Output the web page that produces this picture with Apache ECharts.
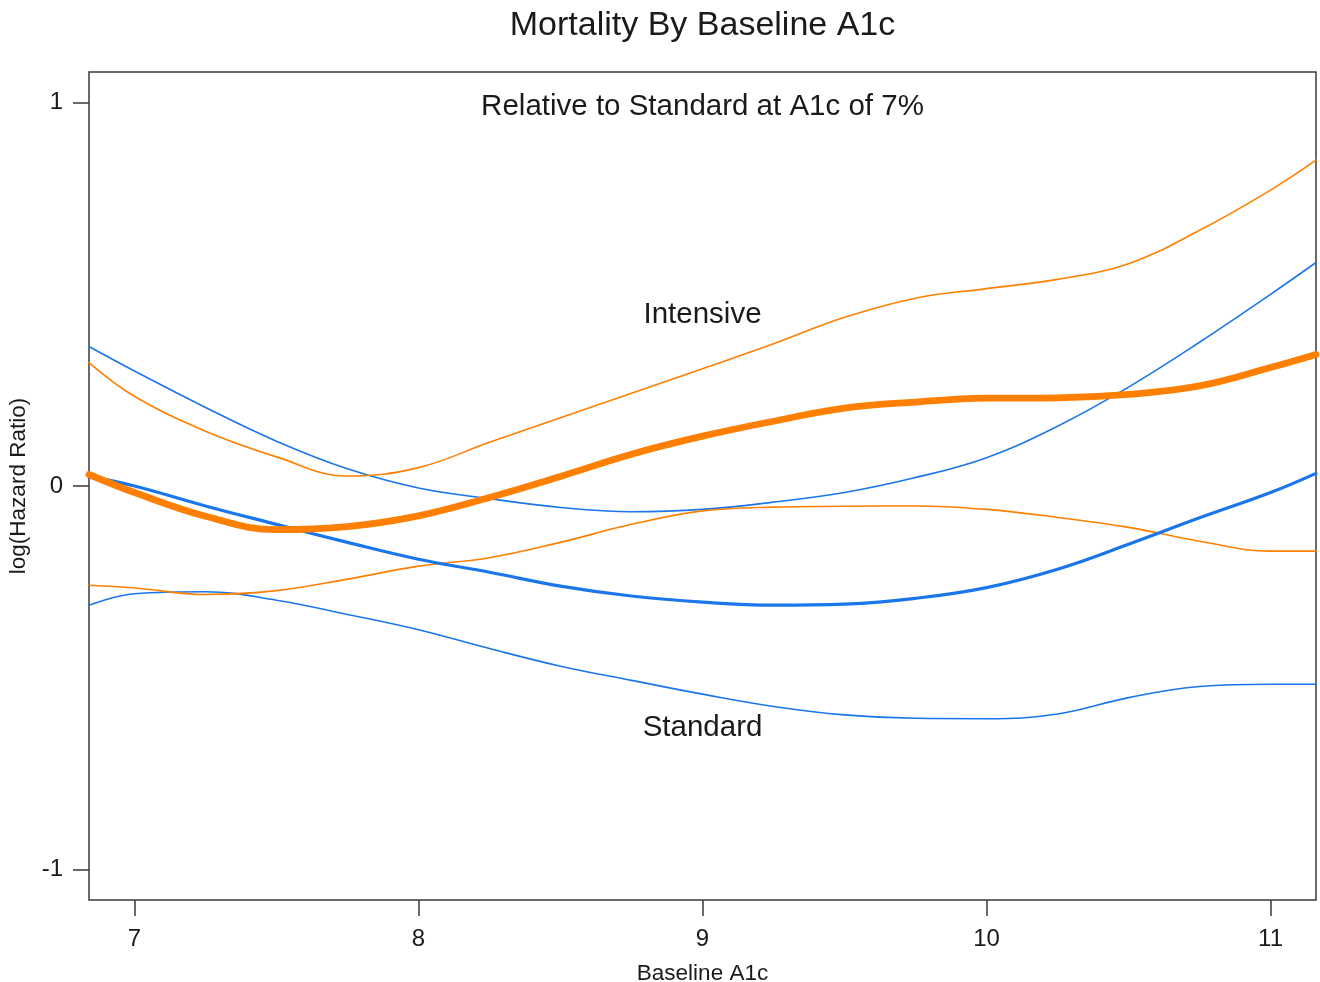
<!DOCTYPE html>
<html>
<head>
<meta charset="utf-8">
<script src="https://cdn.jsdelivr.net/npm/echarts@6/dist/echarts.min.js"></script>
<style>
  html, body { margin: 0; padding: 0; background: #ffffff; }
  #chart { width: 1320px; height: 982px; }
</style>
</head>
<body>
<div id="chart"></div>
<script>
// ---- Data ----
const a1c = [6.84, 7.0, 7.25, 7.5, 7.75, 8.0, 8.25, 8.5, 8.75, 9.0, 9.25, 9.5, 9.75, 10.0, 10.25, 10.5, 10.75, 11.0, 11.16];
const intensive      = [0.030, -0.017, -0.079, -0.114, -0.106, -0.078, -0.030, 0.025, 0.083, 0.130, 0.169, 0.203, 0.219, 0.229, 0.230, 0.239, 0.261, 0.309, 0.343];
const intensiveUpper = [0.322, 0.234, 0.143, 0.076, 0.026, 0.048, 0.114, 0.178, 0.242, 0.306, 0.371, 0.440, 0.490, 0.515, 0.539, 0.580, 0.667, 0.772, 0.850];
const intensiveLower = [-0.259, -0.266, -0.283, -0.273, -0.243, -0.209, -0.187, -0.147, -0.100, -0.065, -0.055, -0.053, -0.052, -0.061, -0.082, -0.108, -0.144, -0.170, -0.170];
const standard       = [0.025, 0.000, -0.052, -0.100, -0.147, -0.191, -0.225, -0.261, -0.287, -0.303, -0.311, -0.308, -0.293, -0.265, -0.217, -0.152, -0.083, -0.017, 0.033];
const standardUpper  = [0.364, 0.300, 0.205, 0.117, 0.045, -0.005, -0.033, -0.056, -0.067, -0.061, -0.042, -0.017, 0.022, 0.074, 0.156, 0.258, 0.375, 0.500, 0.583];
const standardLower  = [-0.311, -0.281, -0.276, -0.298, -0.335, -0.375, -0.424, -0.470, -0.507, -0.543, -0.575, -0.597, -0.606, -0.607, -0.595, -0.552, -0.523, -0.517, -0.517];
const xTicks = [7, 8, 9, 10, 11];
const yTicks = [-1, 0, 1];

const titleText = 'Mortality By Baseline A1c';
const subtitleText = 'Relative to Standard at A1c of 7%';
const xName = 'Baseline A1c';
const yName = 'log(Hazard Ratio)';
// annotation anchors in data units
const annotations = [
  { text: subtitleText, at: [9.0, 0.99] },
  { text: 'Intensive', at: [9.0, 0.447] },
  { text: 'Standard', at: [9.0, -0.632] }
];

// ---- Styles ----
const FONT = "'Liberation Sans', Arial, Helvetica, sans-serif";
const ORANGE = '#FF7F00';
const BLUE = '#1A76EA';
const INK = '#1a1a1a';
const FRAME = '#3a3a3a';

const pairs = ys => a1c.map((x, i) => [x, ys[i]]);
function line(name, ys, color, width, z) {
  return {
    name, type: 'line', data: pairs(ys), smooth: 0.4, symbol: 'none', z,
    lineStyle: { color, width, cap: 'round', join: 'round' },
    emphasis: { disabled: true }, silent: true
  };
}

const chart = echarts.init(document.getElementById('chart'), null, { renderer: 'canvas' });
chart.setOption({
  backgroundColor: '#ffffff',
  animation: false,
  grid: {
    left: 89, right: 4, top: 72, bottom: 82,
    containLabel: false, outerBoundsMode: 'none',
    show: true, borderColor: FRAME, borderWidth: 1.5, backgroundColor: 'transparent'
  },
  xAxis: {
    type: 'value', min: 6.84, max: 11.16,
    name: xName, nameLocation: 'middle', nameGap: 62,
    nameTextStyle: { fontFamily: FONT, fontSize: 22.5, color: INK },
    axisLine: { show: false, onZero: false },
    axisTick: { show: true, inside: false, length: 16, customValues: xTicks, lineStyle: { color: FRAME, width: 1.5 } },
    axisLabel: { customValues: xTicks, margin: 27, fontFamily: FONT, fontSize: 24, color: INK },
    splitLine: { show: false }
  },
  yAxis: {
    type: 'value', min: -1.08, max: 1.08,
    name: yName, nameLocation: 'middle', nameGap: 54, nameRotate: 90,
    nameTextStyle: { fontFamily: FONT, fontSize: 22.5, color: INK },
    axisLine: { show: false, onZero: false },
    axisTick: { show: true, inside: false, length: 16, customValues: yTicks, lineStyle: { color: FRAME, width: 1.5 } },
    axisLabel: { customValues: yTicks, margin: 26, fontFamily: FONT, fontSize: 24, color: INK },
    splitLine: { show: false }
  },
  series: [
    line('Standard upper', standardUpper, BLUE, 1.6, 2),
    line('Standard lower', standardLower, BLUE, 1.6, 2),
    line('Intensive upper', intensiveUpper, ORANGE, 1.6, 2),
    line('Intensive lower', intensiveLower, ORANGE, 1.6, 2),
    line('Standard', standard, BLUE, 3.2, 3),
    line('Intensive', intensive, ORANGE, 6.8, 4)
  ]
});

// place texts using the chart's own coordinate conversion
const plotCenterX = chart.convertToPixel({ gridIndex: 0 }, [(6.84 + 11.16) / 2, 0])[0];
const graphics = [{
  type: 'text', x: plotCenterX, y: 26,
  style: { text: titleText, fontFamily: FONT, fontSize: 34, fill: INK, align: 'center', verticalAlign: 'middle', textAlign: 'center', textVerticalAlign: 'middle' }
}];
annotations.forEach(a => {
  const p = chart.convertToPixel({ gridIndex: 0 }, a.at);
  graphics.push({
    type: 'text', x: p[0], y: p[1],
    style: { text: a.text, fontFamily: FONT, fontSize: 29.5, fill: INK, align: 'center', verticalAlign: 'middle', textAlign: 'center', textVerticalAlign: 'middle' }
  });
});
chart.setOption({ graphic: graphics });
</script>
</body>
</html>
